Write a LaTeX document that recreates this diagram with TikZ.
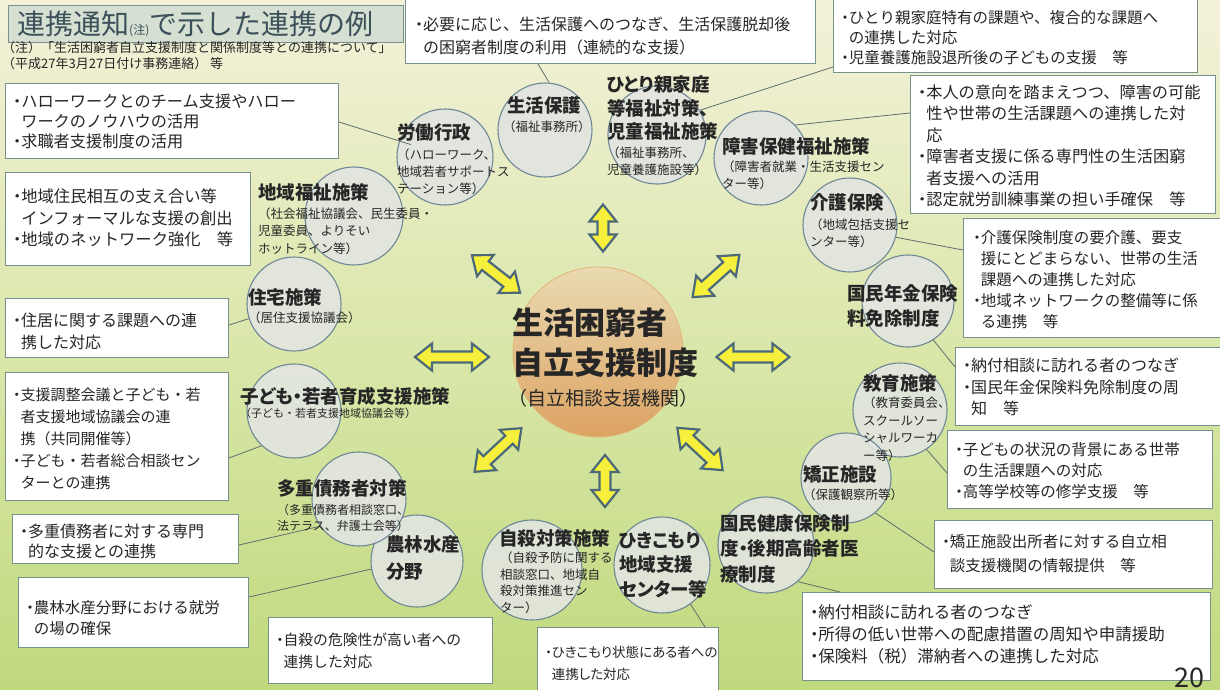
\documentclass[tikz,border=0pt]{standalone}
\usepackage{fontspec}
\setmainfont{Noto Sans CJK JP}
\newfontfamily\pf{Noto Sans CJK JP}[RawFeature=+palt]
\usetikzlibrary{calc}
\definecolor{bgtop}{RGB}{244,241,218}
\definecolor{bgmid}{RGB}{218,231,170}
\definecolor{bgbot}{RGB}{192,217,125}
\definecolor{boxline}{RGB}{120,145,140}
\definecolor{circfill}{RGB}{226,229,224}
\definecolor{circline}{RGB}{110,135,150}
\definecolor{txt}{RGB}{38,38,38}
\definecolor{arrfill}{RGB}{246,240,60}
\definecolor{arrline}{RGB}{75,105,120}
\definecolor{connline}{RGB}{95,110,110}
\definecolor{titlefill}{RGB}{214,224,210}
\definecolor{titletxt}{RGB}{60,80,90}
\definecolor{ctop}{RGB}{234,218,178}
\definecolor{cbot}{RGB}{220,163,98}
\definecolor{cline}{RGB}{226,180,120}
\newcommand\dt{{\pf ・}}
\newcommand\ind{\phantom{\dt}}
\newcommand\dbla[4]{%
  \coordinate (#1) at (#2);
  \filldraw[dbl, shift={(#2)}, rotate=#3]
    (-#4,0) -- (-#4+17,13.5) -- (-#4+17,5.5) -- (#4-17,5.5) -- (#4-17,13.5) -- (#4,0)
    -- (#4-17,-13.5) -- (#4-17,-5.5) -- (-#4+17,-5.5) -- (-#4+17,-13.5) -- cycle;}
\tikzset{
  box/.style={draw=boxline, fill=white, line width=1pt, anchor=north west, inner sep=0pt},
  btext/.style n args={2}{anchor=west, inner sep=0pt, align=left, text=txt, font=\fontsize{#1}{#2}\selectfont},
  circ/.style={circle, draw=circline, fill=circfill, fill opacity=0.9, line width=1.1pt, inner sep=0pt, minimum size=#1},
  ctitle/.style={anchor=west, inner sep=0pt, align=left, text=txt, font=\pf\bfseries\fontsize{18.5}{#1}\selectfont},
  csub/.style={anchor=west, inner sep=0pt, align=left, text=txt, font=\fontsize{12.5}{#1}\selectfont},
  conn/.style={draw=connline, line width=0.8pt},
  dbl/.style={fill=arrfill, draw=arrline, line width=2.2pt, line join=miter},
}
\begin{document}
\begin{tikzpicture}[x=1pt,y=-1pt]
\useasboundingbox (0,0) rectangle (1220,690);
\fill[top color=bgtop, bottom color=bgbot, middle color=bgmid] (0,0) rectangle (1220,690);

% title
\node[draw=boxline, fill=titlefill, line width=1pt, anchor=north west, minimum width=395pt, minimum height=37pt, inner sep=0pt] (title) at (8,5) {};
\node[anchor=west, inner sep=0pt, text=titletxt, font=\fontsize{28}{30}\selectfont] (titletext) at (17,24)
  {連携通知{\fontsize{12}{12}\selectfont (注)}で示した連携の例};
\node[anchor=west, inner sep=0pt, align=left, text=txt, font=\fontsize{13}{16}\selectfont] (note) at (2,56)
  {（注）「生活困窮者自立支援制度と関係制度等との連携について」\\（平成27年3月27日付け事務連絡）\ 等};

% info boxes
\node[box, minimum width=333pt, minimum height=75pt] (b1) at (5,83) {};
\node[btext={16.2}{20}] (t1) at (13,121) {\dt{}ハローワークとのチーム支援やハロー\\\ind ワークのノウハウの活用\\\dt{}求職者支援制度の活用};
\node[box, minimum width=245pt, minimum height=93pt] (b2) at (5,172) {};
\node[btext={16.3}{21.5}] (t2) at (13,218) {\dt{}地域住民相互の支え合い等\\\ind インフォーマルな支援の創出\\\dt{}地域のネットワーク強化　等};
\node[box, minimum width=223pt, minimum height=59pt] (b3) at (5,298) {};
\node[btext={16}{22}] (t3) at (13,331) {\dt{}住居に関する課題への連\\\ind 携した対応};
\node[box, minimum width=223pt, minimum height=128pt] (b4) at (5,372) {};
\node[btext={15}{22}] (t4) at (13,439) {\dt{}支援調整会議と子ども・若\\\ind 者支援地域協議会の連\\\ind 携（共同開催等）\\\dt{}子ども・若者総合相談セン\\\ind ターとの連携};
\node[box, minimum width=226pt, minimum height=49pt] (b5) at (12,514) {};
\node[btext={16}{20}] (t5) at (20,541) {\dt{}多重債務者に対する専門\\\ind 的な支援との連携};
\node[box, minimum width=230pt, minimum height=70pt] (b6) at (18,577) {};
\node[btext={15.5}{21}] (t6) at (26,618) {\dt{}農林水産分野における就労\\\ind の場の確保};
\node[box, minimum width=224pt, minimum height=66pt] (b7) at (268,617) {};
\node[btext={14.8}{22}] (t7) at (276,651) {\dt{}自殺の危険性が高い者への\\\ind 連携した対応};
\node[box, minimum width=181pt, minimum height=75pt] (b8) at (537,627) {};
\node[btext={13.5}{22}, font=\pf\fontsize{13.5}{22}\selectfont] (t8) at (545,663) {\dt{}ひきこもり状態にある者への\\\ind 連携した対応};
\node[box, minimum width=408pt, minimum height=88pt] (b9) at (802,592) {};
\node[btext={16.5}{22}] (t9) at (810,634) {\dt{}納付相談に訪れる者のつなぎ\\\dt{}所得の低い世帯への配慮措置の周知や申請援助\\\dt{}保険料（税）滞納者への連携した対応};
\node[box, minimum width=278pt, minimum height=68pt] (b10) at (934,520) {};
\node[btext={15.5}{24}] (t10) at (942,554) {\dt{}矯正施設出所者に対する自立相\\\ind 談支援機関の情報提供　等};
\node[box, minimum width=265pt, minimum height=78pt] (b11) at (947,430) {};
\node[btext={15.5}{21}] (t11) at (955,471) {\dt{}子どもの状況の背景にある世帯\\\ind の生活課題への対応\\\dt{}高等学校等の修学支援　等};
\node[box, minimum width=275pt, minimum height=78pt] (b12) at (955,347) {};
\node[btext={16}{21.5}] (t12) at (963,387) {\dt{}納付相談に訪れる者のつなぎ\\\dt{}国民年金保険料免除制度の周\\\ind 知　等};
\node[box, minimum width=270pt, minimum height=119pt] (b13) at (963,218) {};
\node[btext={15.5}{21}] (t13) at (973,280) {\dt{}介護保険制度の要介護、要支\\\ind 援にとどまらない、世帯の生活\\\ind 課題への連携した対応\\\dt{}地域ネットワークの整備等に係\\\ind る連携　等};
\node[box, minimum width=305pt, minimum height=138pt] (b14) at (910,75) {};
\node[btext={16.2}{21.5}] (t14) at (918,146) {\dt{}本人の意向を踏まえつつ、障害の可能\\\ind 性や世帯の生活課題への連携した対\\\ind 応\\\dt{}障害者支援に係る専門性の生活困窮\\\ind 者支援への活用\\\dt{}認定就労訓練事業の担い手確保　等};
\node[box, minimum width=364pt, minimum height=77pt] (b15) at (833,-5) {};
\node[btext={15.5}{20}] (t15) at (841,38) {\dt{}ひとり親家庭特有の課題や、複合的な課題へ\\\ind の連携した対応\\\dt{}児童養護施設退所後の子どもの支援　等};
\node[box, minimum width=410pt, minimum height=68pt] (b16) at (405,-5) {};
\node[btext={16}{23}] (t16) at (415,36.5) {\dt{}必要に応じ、生活保護へのつなぎ、生活保護脱却後\\\ind の困窮者制度の利用（連続的な支援）};

% circle shapes (no text)
\node[circ=94pt] (cSeikatsu) at (545,130) {};
\node[circ=98pt] (cHitori) at (657,135) {};
\node[circ=94pt] (cShogai) at (761,158) {};
\node[circ=94pt] (cKaigo) at (850,225) {};
\node[circ=92pt] (cNenkin) at (908,301) {};
\node[circ=94pt] (cKyoiku) at (900,410) {};
\node[circ=90pt] (cKyosei) at (846,478) {};
\node[circ=96pt] (cKokuho) at (766,545) {};
\node[circ=96pt] (cHiki) at (662,565) {};
\node[circ=100pt] (cJisatsu) at (532,570) {};
\node[circ=92pt] (cNorin) at (417,561) {};
\node[circ=94pt] (cTaju) at (359,499) {};
\node[circ=94pt] (cKodomo) at (294,411) {};
\node[circ=94pt] (cJutaku) at (294,304) {};
\node[circ=98pt] (cChiiki) at (354,216) {};
\node[circ=96pt] (cRodo) at (445,157) {};

% connectors
\draw[conn] ([xshift=133pt]b16.south west) -- (cSeikatsu.85);
\draw[conn] ([yshift=6pt]b15.south west) -- (cHitori.30);
\draw[conn] ([yshift=-38pt]b14.north west) -- (cShogai.44);
\draw[conn] ([yshift=-32pt]b13.north west) -- (cKaigo.-15);
\draw[conn] ([yshift=-20pt]b12.north west) -- (cNenkin.-57);
\draw[conn] ([yshift=-43pt]b11.north west) -- (cKyoiku.-56);
\draw[conn] ([yshift=-32pt]b10.north west) -- (cKyosei.-50);
\draw[conn] ([xshift=38pt]b9.north west) -- (cKokuho.-49);
\draw[conn] ([xshift=168pt]b8.north west) -- (cHiki.-54);
\draw[conn] ([yshift=-20pt]b6.north east) -- (cNorin.190);
\draw[conn] ([yshift=-31pt]b5.north east) -- (cTaju.215);
\draw[conn] ([yshift=-86pt]b4.north east) -- (cKodomo.227);
\draw[conn] ([yshift=-27pt]b3.north east) -- (cJutaku.198);
\draw[conn] ([yshift=-39pt]b1.north east) -- ($(cRodo.center)!0.75!(cRodo.160)$);

% circle labels
\node[ctitle=24] (l1a) at (507,105) {生活保護};
\node[csub=17] (l1b) at (503,127) {（福祉事務所）};
\node[ctitle=23.5] (l2a) at (607,108.3) {ひとり親家庭\\等福祉対策、\\児童福祉施策};
\node[csub=17] (l2b) at (607,161.5) {（福祉事務所、\\児童養護施設等）};
\node[ctitle=24] (l3a) at (722,146) {障害保健福祉施策};
\node[csub=17] (l3b) at (722,175.5) {（障害者就業・生活支援セン\\ター等）};
\node[ctitle=24] (l4a) at (810,202) {介護保険};
\node[csub=17] (l4b) at (810,233.5) {（地域包括支援セ\\ンター等）};
\node[ctitle=25] (l5a) at (847,305.5) {国民年金保険\\料免除制度};
\node[ctitle=24] (l6a) at (863,383) {教育施策};
\node[csub=17.5] (l6b) at (863,429) {（教育委員会、\\スクールソー\\シャルワーカ\\ー等）};
\node[ctitle=24] (l7a) at (803,474) {矯正施設};
\node[csub=17] (l7b) at (803,495) {（保護観察所等）};
\node[ctitle=25.5] (l8a) at (720,548.7) {国民健康保険制\\度・後期高齢者医\\療制度};
\node[ctitle=24.5] (l9a) at (619,565) {ひきこもり\\地域支援\\センター等};
\node[ctitle=24] (l10a) at (499,538) {自殺対策施策};
\node[csub=16.5] (l10b) at (500,582.75) {（自殺予防に関する\\相談窓口、地域自\\殺対策推進セン\\ター）};
\node[ctitle=27] (l11a) at (386,558.5) {農林水産\\分野};
\node[ctitle=24] (l12a) at (277,488) {多重債務者対策};
\node[csub=16, font=\fontsize{12}{16}\selectfont] (l12b) at (277,518) {（多重債務者相談窓口、\\法テラス、弁護士会等）};
\node[ctitle=24] (l13a) at (240,396) {子ども・若者育成支援施策};
\node[csub=16, font=\fontsize{11}{16}\selectfont] (l13b) at (240,413) {（子ども・若者支援地域協議会等）};
\node[ctitle=24] (l14a) at (248,297) {住宅施策};
\node[csub=17] (l14b) at (248,318) {（居住支援協議会）};
\node[ctitle=24] (l15a) at (258,192) {地域福祉施策};
\node[csub=17.5] (l15b) at (258,231) {（社会福祉協議会、民生委員・\\児童委員、よりそい\\ホットライン等）};
\node[ctitle=24] (l16a) at (397,132) {労働行政};
\node[csub=17] (l16b) at (397,172) {（ハローワーク、\\地域若者サポートス\\テーション等）};

% central node
\node[circle, minimum size=170pt, inner sep=0pt, top color=ctop, bottom color=cbot, draw=cline, line width=0.8pt] (center) at (598,352) {};
\node[anchor=west, inner sep=0pt, align=left, text=txt, font=\bfseries\fontsize{31}{40}\selectfont] (centertitle) at (512,343) {生活困窮者\\自立支援制度};
\node[anchor=west, inner sep=0pt, text=txt, font=\fontsize{19}{22}\selectfont] (centersub) at (508,398) {（自立相談支援機関）};

% double arrows
\dbla{aT}{603,228}{90}{23.5}
\dbla{aB}{605,481}{90}{26}
\dbla{aL}{452,357}{0}{37}
\dbla{aR}{753,357}{0}{36.5}
\dbla{aUL}{496,274}{-38}{30.5}
\dbla{aUR}{716,276}{42}{31.5}
\dbla{aLL}{498,450}{43}{32}
\dbla{aLR}{700,449}{-43}{31}

% page number
\node[anchor=south west, inner sep=0pt, text=txt, font=\fontsize{27}{27}\selectfont] (pg) at (1174,688) {20};
\end{tikzpicture}
\end{document}
